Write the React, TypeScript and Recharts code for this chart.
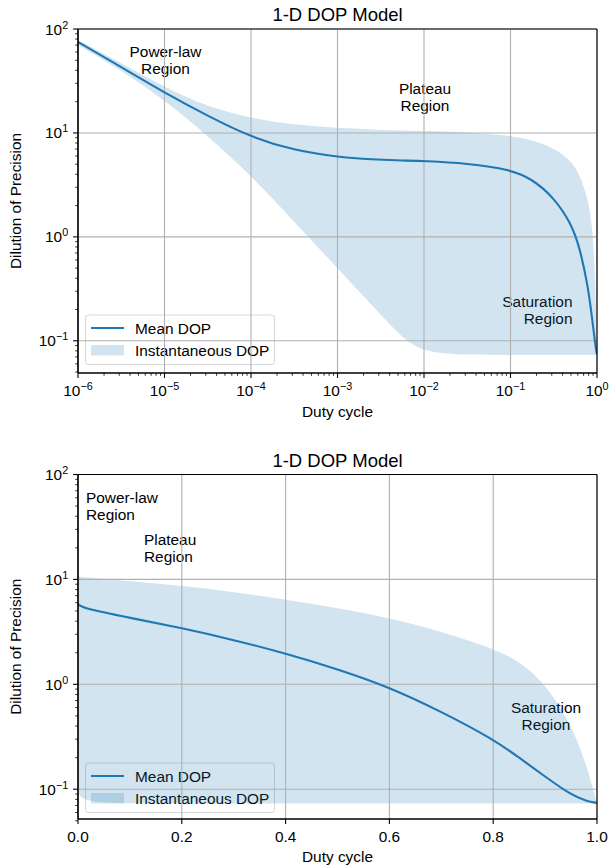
import React from "react";
import { ComposedChart, Area, Line, XAxis, YAxis, ReferenceLine } from "recharts";

const FONT = '"Liberation Sans", Arial, Helvetica, sans-serif';
const BLUE = "#1f77b4";
const GRID = "#b0b0b0";
const FS = 15.4;

// top panel: duty cycle on a log axis
const topDuty = [1e-6, 3.16e-6, 1e-5, 3.16e-5, 1e-4, 3.16e-4, 1e-3, 3.16e-3, 5.6e-3, 1e-2, 3.16e-2, 0.1, 0.178, 0.316, 0.5, 0.63, 0.79, 0.89, 0.95, 0.98, 1];
const topMean = [75, 43, 24.3, 14.6, 9.1, 6.8, 5.85, 5.5, 5.42, 5.37, 5.1, 4.45, 3.6, 2.4, 1.36, 0.8, 0.33, 0.15, 0.095, 0.08, 0.074];
const topUpper = [78, 47, 27.6, 17.8, 13.9, 11.9, 11.2, 10.7, 10.55, 10.45, 10.2, 9.4, 8.6, 7.2, 5.4, 4.0, 2.3, 1.2, 0.42, 0.17, 0.073];
const topLower = [70, 40, 20.7, 9.4, 3.9, 1.39, 0.5, 0.178, 0.107, 0.077, 0.073, 0.073, 0.073, 0.073, 0.073, 0.073, 0.073, 0.073, 0.073, 0.073, 0.073];

// bottom panel: duty cycle on a linear axis
const bottomDuty = [0, 0.005, 0.1, 0.2, 0.3, 0.4, 0.5, 0.6, 0.7, 0.8, 0.85, 0.9, 0.95, 0.98, 1];
const bottomMean = [5.86, 5.37, 4.3, 3.44, 2.65, 1.97, 1.4, 0.94, 0.55, 0.3, 0.2, 0.132, 0.088, 0.077, 0.074];
const bottomUpper = [10.7, 10.55, 9.6, 8.7, 7.6, 6.4, 5.35, 4.3, 3.2, 2.2, 1.66, 1.02, 0.42, 0.17, 0.073];
const bottomLower = [0.1, 0.075, 0.073, 0.073, 0.073, 0.073, 0.073, 0.073, 0.073, 0.073, 0.073, 0.073, 0.073, 0.073, 0.073];

const yMajor = [0.1, 1, 10, 100];
const yMinor = [0.01, 0.1, 1, 10].flatMap((d) => [2, 3, 4, 5, 6, 7, 8, 9].map((k) => k * d)).filter((v) => v >= 0.05 && v < 100);
const topXMajor = [1e-6, 1e-5, 1e-4, 1e-3, 1e-2, 1e-1, 1];
const topXMinor = [1e-6, 1e-5, 1e-4, 1e-3, 1e-2, 1e-1].flatMap((d) => [2, 3, 4, 5, 6, 7, 8, 9].map((k) => k * d));
const bottomXMajor = [0, 0.2, 0.4, 0.6, 0.8, 1.0];
const bottomXLabels = ["0.0", "0.2", "0.4", "0.6", "0.8", "1.0"];

const topData = topDuty.map((d, i) => ({ duty: d, mean: topMean[i], band: [topLower[i], topUpper[i]] }));
const bottomData = bottomDuty.map((d, i) => ({ duty: d, mean: bottomMean[i], band: [bottomLower[i], bottomUpper[i]] }));

const near = (a: number, b: number) => Math.abs(a - b) <= Math.abs(b) * 1e-6 + 1e-12;

const pow10 = (v: number) => {
  const e = Math.round(Math.log10(v));
  return (
    <>
      10
      <tspan dy={-6} fontSize={10.8}>{e < 0 ? "\u2212" + -e : String(e)}</tspan>
    </>
  );
};

const XTick = (props: any) => {
  const { x, y, payload, majors, labels } = props;
  const idx = majors.findIndex((m: number) => near(payload.value, m));
  const major = idx >= 0;
  return (
    <g>
      <line x1={x} x2={x} y1={y} y2={y + (major ? 4.9 : 2.8)} stroke="#000" strokeWidth={major ? 1.1 : 0.8} />
      {major && (
        <text x={x} y={y + 23} textAnchor="middle" fontSize={FS} fontFamily={FONT} fill="#000">
          {labels ? labels[idx] : pow10(payload.value)}
        </text>
      )}
    </g>
  );
};

const YTick = (props: any) => {
  const { x, y, payload } = props;
  const major = yMajor.some((m) => near(payload.value, m));
  return (
    <g>
      <line x1={x - (major ? 4.9 : 2.8)} x2={x} y1={y} y2={y} stroke="#000" strokeWidth={major ? 1.1 : 0.8} />
      {major && (
        <text x={x - 9.8} y={y + 5.5} textAnchor="end" fontSize={FS} fontFamily={FONT} fill="#000">
          {pow10(payload.value)}
        </text>
      )}
    </g>
  );
};

const T = (p: any) => <text fontFamily={FONT} fontSize={FS} fill="#000" {...p} />;

function LegendBox({ top }: { top: number }) {
  return (
    <g>
      <rect x={85.5} y={top} width={189} height={49.5} rx={3} fill="#fff" fillOpacity={0.8} stroke="#d6d6d6" strokeWidth={1} />
      <line x1={91} x2={124} y1={top + 13} y2={top + 13} stroke={BLUE} strokeWidth={2.1} />
      <T x={135} y={top + 18.5}>Mean DOP</T>
      <rect x={91} y={top + 30} width={33} height={10.5} fill={BLUE} fillOpacity={0.2} />
      <T x={135} y={top + 40.5}>Instantaneous DOP</T>
    </g>
  );
}

function Panel(props: any) {
  const { data, height, margin, log, xDomain, xMajor, xMinor, xLabels, yDomain, titleY, xLabelY, legendTop, notes } = props;
  // axes are 1px thick, so the plot box starts one pixel inside the margins
  const plotTop = margin.top;
  const plotBottom = height - margin.bottom - 1;
  const plotMid = (plotTop + plotBottom) / 2;
  return (
    <ComposedChart width={610} height={height} data={data} margin={margin}>
      <XAxis
        dataKey="duty"
        type="number"
        scale={log ? "log" : "linear"}
        domain={xDomain}
        allowDataOverflow
        ticks={[...xMajor, ...xMinor]}
        interval={0}
        tickSize={0}
        tickMargin={0}
        tickLine={false}
        height={1}
        axisLine={{ stroke: "#000", strokeWidth: 1.1 }}
        tick={(p: any) => <XTick {...p} majors={xMajor} labels={xLabels} />}
      />
      <YAxis
        type="number"
        scale="log"
        domain={yDomain}
        allowDataOverflow
        ticks={[...yMajor, ...yMinor]}
        interval={0}
        tickSize={0}
        tickMargin={0}
        tickLine={false}
        width={1}
        axisLine={{ stroke: "#000", strokeWidth: 1.1 }}
        tick={(p: any) => <YTick {...p} />}
      />
      <Area dataKey="band" type="basis" stroke="none" fill={BLUE} fillOpacity={0.2} isAnimationActive={false} activeDot={false} />
      {xMajor.map((v: number) => (
        <ReferenceLine key={"gx" + v} x={v} stroke={GRID} strokeWidth={1.1} ifOverflow="visible" />
      ))}
      {yMajor.map((v: number) => (
        <ReferenceLine key={"gy" + v} y={v} stroke={GRID} strokeWidth={1.1} ifOverflow="visible" />
      ))}
      <Line dataKey="mean" type="basis" stroke={BLUE} strokeWidth={2.1} dot={false} activeDot={false} isAnimationActive={false} />
      <ReferenceLine y={yDomain[1]} stroke="#000" strokeWidth={1.1} ifOverflow="visible" />
      <ReferenceLine x={xDomain[1]} stroke="#000" strokeWidth={1.1} ifOverflow="visible" />
      <ReferenceLine x={xDomain[0]} stroke="#000" strokeWidth={1.1} ifOverflow="visible" />
      <ReferenceLine y={yDomain[0]} stroke="#000" strokeWidth={1.1} ifOverflow="visible" />
      <text x={337.5} y={titleY} textAnchor="middle" fontFamily={FONT} fontSize={18.5} fill="#000">
        1-D DOP Model
      </text>
      <T x={337.5} y={xLabelY} textAnchor="middle">Duty cycle</T>
      <T x={20.5} y={plotMid} textAnchor="middle" transform={`rotate(-90, 20.5, ${plotMid})`}>
        Dilution of Precision
      </T>
      {notes.map((n: any, i: number) => (
        <T key={i} x={n.x} y={n.y} textAnchor={n.anchor}>{n.text}</T>
      ))}
      <LegendBox top={legendTop} />
    </ComposedChart>
  );
}

const topNotes = [
  { text: "Power-law", x: 165.5, y: 57, anchor: "middle" },
  { text: "Region", x: 165.5, y: 74, anchor: "middle" },
  { text: "Plateau", x: 425, y: 93.5, anchor: "middle" },
  { text: "Region", x: 425, y: 110.5, anchor: "middle" },
  { text: "Saturation", x: 572.5, y: 307, anchor: "end" },
  { text: "Region", x: 572.5, y: 324, anchor: "end" },
];

const bottomNotes = [
  { text: "Power-law", x: 86, y: 63, anchor: "start" },
  { text: "Region", x: 86, y: 80, anchor: "start" },
  { text: "Plateau", x: 144, y: 105, anchor: "start" },
  { text: "Region", x: 144, y: 122, anchor: "start" },
  { text: "Saturation", x: 546, y: 273, anchor: "middle" },
  { text: "Region", x: 546, y: 289.5, anchor: "middle" },
];

export default function App() {
  return (
    <div style={{ position: "absolute", left: 0, top: 0, width: 610, height: 865, background: "#fff" }}>
      <div style={{ position: "absolute", left: 0, top: 0 }}>
        <Panel
          data={topData}
          height={440}
          margin={{ top: 29, right: 13, bottom: 66, left: 77 }}
          log
          xDomain={[1e-6, 1]}
          xMajor={topXMajor}
          xMinor={topXMinor}
          yDomain={[0.049, 100]}
          titleY={21}
          xLabelY={417}
          legendTop={315}
          notes={topNotes}
        />
      </div>
      <div style={{ position: "absolute", left: 0, top: 440 }}>
        <Panel
          data={bottomData}
          height={425}
          margin={{ top: 34.5, right: 13, bottom: 45, left: 77 }}
          log={false}
          xDomain={[0, 1]}
          xMajor={bottomXMajor}
          xMinor={[]}
          xLabels={bottomXLabels}
          yDomain={[0.052, 100]}
          titleY={27}
          xLabelY={422}
          legendTop={323}
          notes={bottomNotes}
        />
      </div>
    </div>
  );
}
